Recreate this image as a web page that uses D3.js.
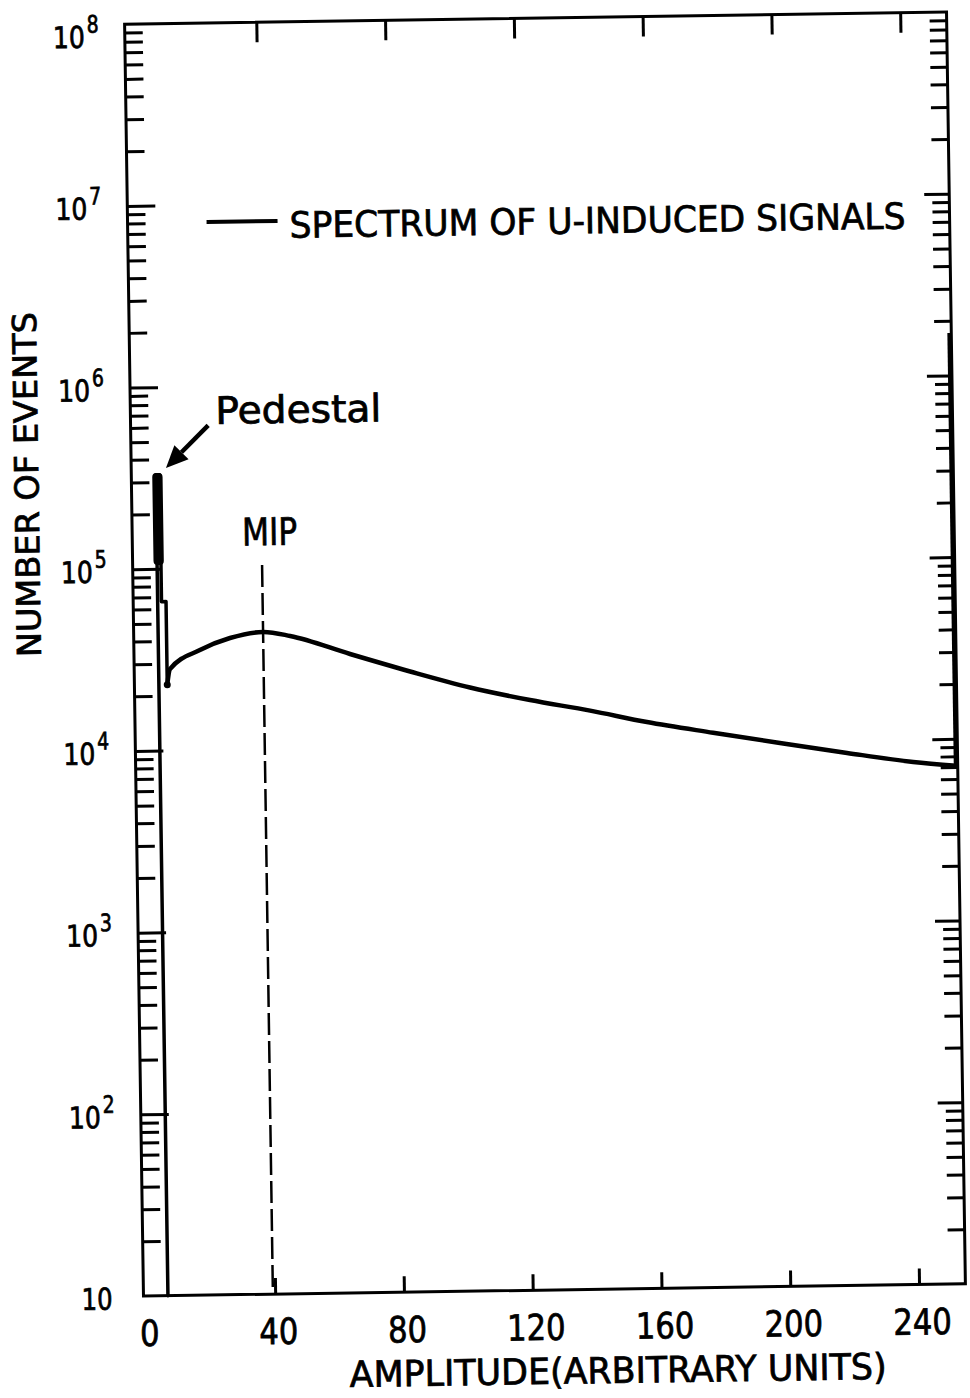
<!DOCTYPE html>
<html lang="en">
<head>
<meta charset="UTF-8">
<title>Spectrum of U-induced signals</title>
<script src="https://cdn.jsdelivr.net/npm/d3@7"></script>
<style>
  body { margin: 0; background: #fff; }
  svg { display: block; }
  text { font-family: "DejaVu Sans Condensed", "Liberation Sans Narrow", "DejaVu Sans", sans-serif; fill: #000; stroke: #000; stroke-width: 0.7px; }
  .tick line { stroke: #000; stroke-width: 3px; }
  .domain { display: none; }
</style>
</head>
<body>
<svg id="chart" width="970" height="1398"></svg>
<script>
// pedestal edge of the histogram (amplitude, number of events)
const pedestalAmp    = [6.7, 6.7, 7.9, 7.9, 9.3, 9.3];
const pedestalEvents = [10, 3.3e5, 3.3e5, 6.6e4, 6.6e4, 2.3e4];
// the heavy pedestal peak
const peakAmp    = [5.6, 8.8];
const peakEvents = [1.05e5, 3.37e5];
// continuum of U-induced signals
const spectrumAmp    = [9.3, 10.2, 19.6, 29.0, 39.3, 47.7, 66.2, 84.8, 103.3, 121.9, 140.5, 158.1, 178.6, 199.3, 220.1, 240.6, 253.8];
const spectrumEvents = [2.3e4, 2.8e4, 3.55e4, 4.11e4, 4.41e4, 4.17e4, 3.28e4, 2.6e4, 2.1e4, 1.77e4, 1.53e4, 1.31e4, 1.13e4, 9.8e3, 8.53e3, 7.52e3, 7.1e3];
// last (overflow) channel
const overflowAmp    = [253.8, 253.8];
const overflowEvents = [7.1e3, 1.71e6];
// MIP marker
const mipAmp = 39.3;
const mipEvents = [10, 1.03e5];
// arrow to pedestal: tail, tip
const arrowAmp    = [23.2, 9.9];
const arrowEvents = [6.1e5, 3.59e5];

const xTicks = [40, 80, 120, 160, 200, 240];
const xLabels = [0, 40, 80, 120, 160, 200, 240];
const decades = [1e2, 1e3, 1e4, 1e5, 1e6, 1e7];
const yLabelExp = [1, 2, 3, 4, 5, 6, 7, 8];
const minorTicks = [];
[10, 1e2, 1e3, 1e4, 1e5, 1e6, 1e7].forEach(d => {
  for (let k = 2; k <= 9; k++) minorTicks.push(d * k);
});

const frame = { left: 134, right: 956, top: 18, bottom: 1290 };

const svg = d3.select("#chart");
// the printed figure sits slightly tilted on the page
const root = svg.append("g").attr("transform", "rotate(-0.85,546,654)");

const x = d3.scaleLinear().domain([-0.9, 254.4]).range([frame.left, frame.right]);
const y = d3.scaleLog().domain([10, 1e8]).range([frame.bottom, frame.top]);

// ticks, all pointing inward
function ticks(axis, transform) {
  root.append("g").attr("transform", transform).call(axis.tickFormat(""));
}
ticks(d3.axisLeft(y).tickValues(minorTicks).tickSize(-18), `translate(${frame.left},0)`);
ticks(d3.axisLeft(y).tickValues(decades).tickSize(-28), `translate(${frame.left},0)`);
ticks(d3.axisRight(y).tickValues(minorTicks).tickSize(-17), `translate(${frame.right},0)`);
ticks(d3.axisRight(y).tickValues(decades).tickSize(-25), `translate(${frame.right},0)`);
ticks(d3.axisBottom(x).tickValues(xTicks).tickSize(-16), `translate(0,${frame.bottom})`);
ticks(d3.axisTop(x).tickValues(xTicks).tickSize(-20), `translate(0,${frame.top})`);

root.append("rect")
  .attr("x", frame.left).attr("y", frame.top)
  .attr("width", frame.right - frame.left).attr("height", frame.bottom - frame.top)
  .attr("fill", "none").attr("stroke", "#000").attr("stroke-width", 3);

// y labels 10, 10^2 ... 10^8
yLabelExp.forEach(e => {
  const v = Math.pow(10, e);
  const base = y(v) + (e === 8 ? 23 : 13);
  if (e === 1) {
    root.append("text").attr("x", 103).attr("y", base)
      .attr("text-anchor", "end").attr("font-size", 30)
      .attr("textLength", 31).attr("lengthAdjust", "spacingAndGlyphs").text("10");
  } else {
    root.append("text").attr("x", 94).attr("y", base)
      .attr("text-anchor", "end").attr("font-size", 30)
      .attr("textLength", 32).attr("lengthAdjust", "spacingAndGlyphs").text("10");
    root.append("text").attr("x", 96).attr("y", base - 15)
      .attr("font-size", 24)
      .attr("textLength", 12).attr("lengthAdjust", "spacingAndGlyphs").text(e);
  }
});

// x labels
root.selectAll(".xlab").data(xLabels).enter().append("text")
  .attr("class", "xlab")
  .attr("x", d => x(d) + 3).attr("y", frame.bottom + 50)
  .attr("text-anchor", "middle").attr("font-size", 36)
  .attr("textLength", d => String(d).length * 19.5)
  .attr("lengthAdjust", "spacingAndGlyphs")
  .text(d => d);

// axis titles
root.append("text").attr("x", 339).attr("y", 1384)
  .attr("font-size", 36).attr("textLength", 537).attr("lengthAdjust", "spacingAndGlyphs")
  .text("AMPLITUDE(ARBITRARY UNITS)");
root.append("text").attr("transform", "translate(41,477) rotate(-90)")
  .attr("text-anchor", "middle").attr("font-size", 33)
  .attr("textLength", 345).attr("lengthAdjust", "spacingAndGlyphs")
  .text("NUMBER OF EVENTS");

// data
const line = d3.line().x(d => x(d[0])).y(d => y(d[1]));
const smooth = d3.line().x(d => x(d[0])).y(d => y(d[1])).curve(d3.curveMonotoneX);
const zip = (a, b) => a.map((v, i) => [v, b[i]]);

root.append("rect")
  .attr("x", x(peakAmp[0])).attr("y", y(peakEvents[1]))
  .attr("width", x(peakAmp[1]) - x(peakAmp[0]))
  .attr("height", y(peakEvents[0]) - y(peakEvents[1]))
  .attr("rx", 4).attr("fill", "#000");

root.append("path").attr("d", line(zip(pedestalAmp, pedestalEvents)))
  .attr("fill", "none").attr("stroke", "#000").attr("stroke-width", 3.5)
  .attr("stroke-linejoin", "round").attr("stroke-linecap", "round");

root.append("path").attr("d", smooth(zip(spectrumAmp, spectrumEvents)))
  .attr("fill", "none").attr("stroke", "#000").attr("stroke-width", 4.5)
  .attr("stroke-linejoin", "round").attr("stroke-linecap", "round");

root.append("path").attr("d", line(zip(overflowAmp, overflowEvents)))
  .attr("fill", "none").attr("stroke", "#000").attr("stroke-width", 4);

// dip blob at the pedestal end
root.append("circle").attr("cx", x(pedestalAmp[5])).attr("cy", y(pedestalEvents[5]))
  .attr("r", 3.5).attr("fill", "#000");

// MIP
root.append("line")
  .attr("x1", x(mipAmp)).attr("x2", x(mipAmp))
  .attr("y1", y(mipEvents[1])).attr("y2", y(mipEvents[0]))
  .attr("stroke", "#000").attr("stroke-width", 2.5).attr("stroke-dasharray", "22 6");
root.append("text").attr("x", x(mipAmp) + 8).attr("y", 541)
  .attr("text-anchor", "middle").attr("font-size", 38)
  .attr("textLength", 55).attr("lengthAdjust", "spacingAndGlyphs").text("MIP");

// pedestal annotation
const tail = [x(arrowAmp[0]), y(arrowEvents[0])];
const tip = [x(arrowAmp[1]), y(arrowEvents[1])];
const ang = Math.atan2(tip[1] - tail[1], tip[0] - tail[0]);
const headLen = 22, headW = 10;
const hb = [tip[0] - headLen * Math.cos(ang), tip[1] - headLen * Math.sin(ang)];
root.append("line").attr("x1", tail[0]).attr("y1", tail[1]).attr("x2", hb[0]).attr("y2", hb[1])
  .attr("stroke", "#000").attr("stroke-width", 4.5);
root.append("polygon").attr("points", [
  tip,
  [hb[0] + headW * Math.sin(ang), hb[1] - headW * Math.cos(ang)],
  [hb[0] - headW * Math.sin(ang), hb[1] + headW * Math.cos(ang)]
].map(p => p.join(",")).join(" ")).attr("fill", "#000");
root.append("text").attr("x", 219).attr("y", 419)
  .attr("font-size", 38).attr("textLength", 166).attr("lengthAdjust", "spacingAndGlyphs")
  .text("Pedestal");

// legend
root.append("line").attr("x1", 213).attr("x2", 284).attr("y1", 217).attr("y2", 217)
  .attr("stroke", "#000").attr("stroke-width", 4);
root.append("text").attr("x", 296).attr("y", 234)
  .attr("font-size", 36).attr("textLength", 616).attr("lengthAdjust", "spacingAndGlyphs")
  .text("SPECTRUM OF U-INDUCED SIGNALS");
</script>
</body>
</html>
